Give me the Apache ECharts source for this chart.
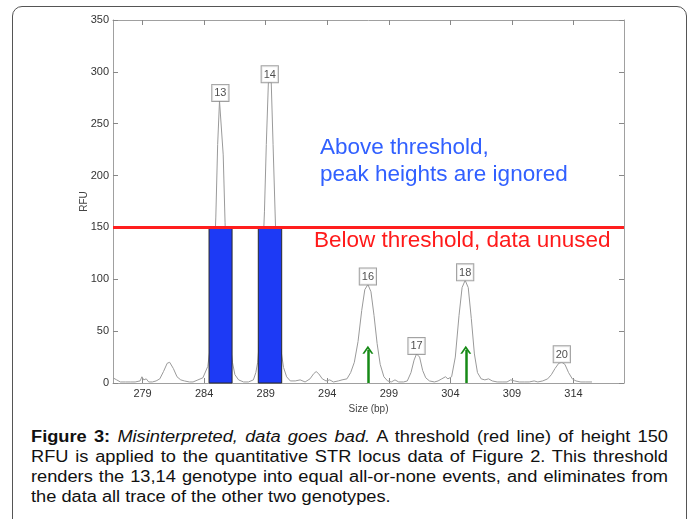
<!DOCTYPE html>
<html>
<head>
<meta charset="utf-8">
<script src="https://cdn.jsdelivr.net/npm/echarts@6/dist/echarts.min.js"></script>
<style>
  body { margin: 0; background: #fff; width: 696px; height: 519px; overflow: hidden; position: relative; }
  #frame { position: absolute; left: 12px; top: 6px; width: 675px; height: 540px;
           border: 1.5px solid #555; border-radius: 10px; box-sizing: border-box; }
  #chart { position: absolute; left: 0; top: 0; width: 696px; height: 420px; }
  /* caption glyphs in the figure are a bit stretched sideways */
  #caption { position: absolute; left: 31px; top: 427px; width: 545px;
             font-family: "Liberation Sans", Arial, sans-serif; font-size: 15.6px;
             line-height: 20px; color: #111; text-align: justify;
             transform: scaleX(1.1688); transform-origin: 0 0; }
</style>
</head>
<body>
<div id="frame"></div>
<div id="chart"></div>
<div id="caption"><b>Figure 3:</b> <i>Misinterpreted, data goes bad.</i> A threshold (red line) of height 150 RFU is applied to the quantitative STR locus data of Figure 2. This threshold renders the 13,14 genotype into equal all-or-none events, and eliminates from the data all trace of the other two genotypes.</div>
<script>
// electropherogram trace, size (bp) and RFU
const traceSize = [276.6, 276.9, 277.2, 277.6, 278.0, 278.4, 278.8, 278.95, 279.1, 279.3, 279.5, 279.8,
  280.1, 280.4, 280.7, 281.0, 281.2, 281.5, 281.8, 282.1, 282.4, 282.8, 283.1, 283.5, 283.9,
  284.0, 284.3, 284.5, 284.8, 284.95, 285.1, 285.25, 285.4, 285.55, 285.7, 285.85, 286.1, 286.3, 286.5, 286.8,
  287.2, 287.6, 288.0, 288.2, 288.35, 288.55, 288.75, 288.9, 289.05, 289.22, 289.45, 289.6, 289.8, 290.0,
  290.2, 290.45, 290.7, 291.0, 291.4, 291.8, 292.2, 292.6, 292.9, 293.1, 293.3, 293.6, 293.9, 294.2, 294.5,
  294.9, 295.2, 295.6, 295.9, 296.2, 296.5, 296.8, 297.05, 297.3, 297.55, 297.8, 298.05, 298.3, 298.6, 298.9,
  299.2, 299.5, 299.8, 300.2, 300.5, 300.8, 301.05, 301.25, 301.5, 301.75, 302.0, 302.3, 302.7, 303.0, 303.3,
  303.6, 303.8, 304.1, 304.4, 304.7, 304.95, 305.2, 305.45, 305.7, 305.95, 306.2, 306.5, 306.8, 307.1, 307.4,
  307.8, 308.2, 308.6, 308.9, 309.2, 309.6, 310.0, 310.4, 310.8, 311.1, 311.5, 311.9, 312.2, 312.5, 312.8,
  313.05, 313.3, 313.6, 313.9, 314.2, 314.6, 315.0, 315.5];
const traceRfu = [5, 3, 1, 1, 1, 1, 2, 6, 3, 4, 1, 1,
  2, 4, 11, 19, 20, 14, 6, 3, 2, 1, 1, 3, 5,
  6, 16, 35, 110, 160, 230, 272, 272, 220, 155, 100, 40, 20, 8, 3,
  1, 1, 3, 10, 20, 50, 120, 165, 230, 290, 290, 230, 150, 80,
  35, 15, 6, 2, 2, 3, 1, 4, 9, 11, 9, 4, 2, 3, 1,
  2, 3, 4, 10, 20, 40, 70, 90, 95, 88, 65, 38, 18, 6, 2,
  1, 3, 1, 1, 2, 10, 22, 28, 25, 12, 5, 2, 1, 2, 4,
  6, 4, 6, 25, 65, 92, 99, 92, 62, 28, 10, 4, 3, 4, 2,
  1, 1, 1, 3, 2, 1, 1, 1, 2, 1, 2, 4, 8, 14, 19,
  20, 18, 10, 4, 2, 1, 1, 1];

// allele labels at peak tops
const alleleNames = ['13', '14', '16', '17', '18', '20'];
const alleleSize = [285.32, 289.33, 297.3, 301.25, 305.2, 313.05];
const alleleTop = [272, 290, 95, 28, 99, 20];

// thresholded (all-or-none) bars
const barStart = [284.4, 288.4];
const barEnd = [286.27, 290.3];
const barHeight = [150, 150];

const threshold = 150;

// green arrows under the discarded peaks
const arrowSize = [297.3, 305.25];
const arrowTop = [32, 32];

const xTicks = [279, 284, 289, 294, 299, 304, 309, 314];

const chart = echarts.init(document.getElementById('chart'));

const tickStyle = { color: '#888', width: 1 };
const lineCol = '#a0a0a0';

const option = {
  animation: false,
  grid: { left: 113, right: 72, top: 20, bottom: 37 },
  xAxis: [
    {
      type: 'value', min: 276.6, max: 318.1, position: 'bottom',
      name: 'Size (bp)', nameLocation: 'middle', nameGap: 21, nameMoveOverlap: false,
      nameTextStyle: { fontSize: 10, color: '#444', fontFamily: 'Liberation Sans' },
      axisLine: { onZero: false, lineStyle: { color: lineCol } },
      axisTick: { inside: true, length: 5, customValues: xTicks, lineStyle: tickStyle },
      axisLabel: { customValues: xTicks, fontSize: 11, color: '#333', margin: 5, fontFamily: 'Liberation Sans' },
      splitLine: { show: false }
    },
    {
      type: 'value', min: 276.6, max: 318.1, position: 'top',
      axisLine: { onZero: false, lineStyle: { color: lineCol } },
      axisTick: { inside: true, length: 5, customValues: xTicks, lineStyle: tickStyle },
      axisLabel: { show: false },
      splitLine: { show: false }
    }
  ],
  yAxis: [
    {
      type: 'value', min: 0, max: 350, interval: 50, position: 'left',
      name: 'RFU', nameLocation: 'middle', nameGap: 24, nameRotate: 90, nameMoveOverlap: false,
      nameTextStyle: { fontSize: 10, color: '#444', fontFamily: 'Liberation Sans' },
      axisLine: { show: true, onZero: false, lineStyle: { color: lineCol } },
      axisTick: { show: true, inside: true, length: 5, lineStyle: tickStyle },
      axisLabel: { fontSize: 11, color: '#333', margin: 4, fontFamily: 'Liberation Sans' },
      splitLine: { show: false }
    },
    {
      type: 'value', min: 0, max: 350, interval: 50, position: 'right',
      axisLine: { show: true, onZero: false, lineStyle: { color: lineCol } },
      axisTick: { show: true, inside: true, length: 5, lineStyle: tickStyle },
      axisLabel: { show: false },
      splitLine: { show: false }
    }
  ],
  series: [
    {
      name: 'trace',
      type: 'line',
      z: 2,
      data: traceSize.map((s, i) => [s, traceRfu[i]]),
      showSymbol: false,
      silent: true,
      lineStyle: { color: '#9a9a9a', width: 1 }
    },
    {
      name: 'bars',
      type: 'custom',
      z: 3,
      silent: true,
      data: barStart.map((s, i) => [s, barEnd[i], barHeight[i]]),
      encode: { x: [0, 1], y: 2 },
      renderItem: (params, api) => {
        const p0 = api.coord([api.value(0), api.value(2)]);
        const p1 = api.coord([api.value(1), 0]);
        return {
          type: 'rect',
          shape: { x: p0[0], y: p0[1], width: p1[0] - p0[0], height: p1[1] - p0[1] },
          style: { fill: '#1d3af5', stroke: '#2a2a2a', lineWidth: 1 }
        };
      }
    },
    {
      name: 'marks',
      type: 'line',
      z: 4,
      data: [],
      silent: true,
      markLine: {
        silent: true,
        animation: false,
        label: { show: false },
        symbol: ['none', 'none'],
        data: [
          { yAxis: threshold, lineStyle: { color: '#ff1e1e', width: 3, type: 'solid' } },
          ...arrowSize.map((x, i) => [
            { coord: [x, 0], symbol: 'none' },
            { coord: [x, arrowTop[i]], symbol: 'path://M0,10 L5,0 L10,10 L8.2,10 L5,3.6 L1.8,10 Z', symbolSize: [11, 8],
              lineStyle: { color: '#168a16', width: 2.5, type: 'solid' } }
          ])
        ]
      }
    },
    {
      name: 'labels',
      type: 'scatter',
      z: 5,
      silent: true,
      symbolSize: 0,
      data: alleleSize.map((s, i) => ({ name: alleleNames[i], value: [s, alleleTop[i]] })),
      label: {
        show: true,
        position: 'top',
        distance: 0,
        formatter: '{b}',
        fontSize: 11,
        fontFamily: 'Liberation Sans',
        color: '#222',
        backgroundColor: '#fff',
        borderColor: '#888',
        borderWidth: 1,
        padding: [3, 2, 2, 2]
      }
    }
  ],
  graphic: [
    {
      type: 'text', left: 320, top: 134, silent: true,
      style: {
        text: 'Above threshold,\npeak heights are ignored',
        font: '22.5px "Liberation Sans"', fill: '#3160ff', lineHeight: 27
      }
    },
    {
      type: 'text', left: 314, top: 229, silent: true,
      style: {
        text: 'Below threshold, data unused',
        font: '22.5px "Liberation Sans"', fill: '#ff1a1a'
      }
    }
  ]
};

chart.setOption(option);
</script>
</body>
</html>
